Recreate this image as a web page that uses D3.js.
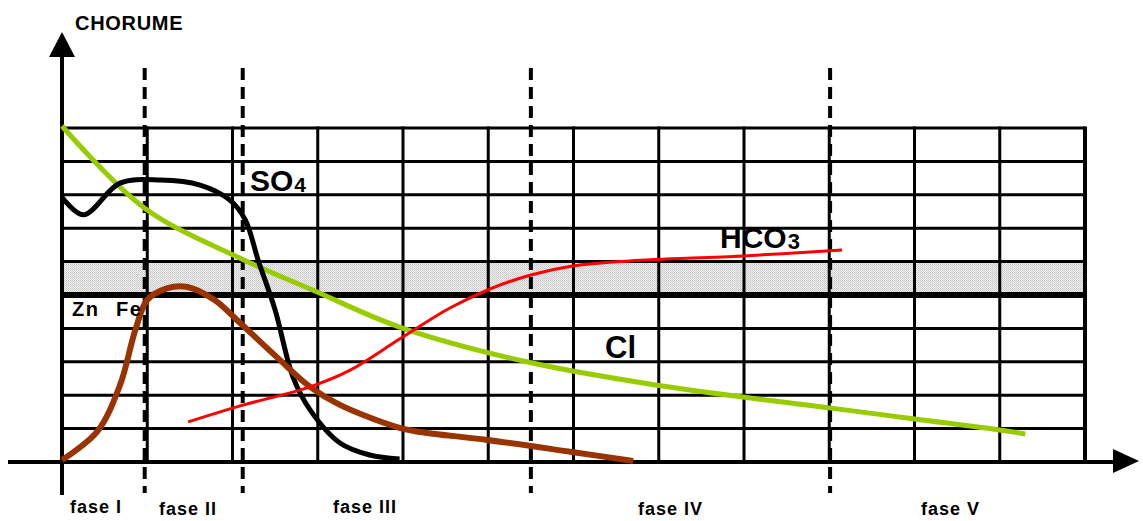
<!DOCTYPE html>
<html>
<head>
<meta charset="utf-8">
<script src="https://cdn.jsdelivr.net/npm/d3@7"></script>
<style>
  html, body { margin: 0; padding: 0; background: #fff; }
  svg { display: block; font-family: Arial, "Liberation Sans", Helvetica, sans-serif; font-weight: bold; }
</style>
</head>
<body>
<svg id="chart" width="1143" height="521"></svg>
<script>
// ---------- DATA ----------
const yAxisTitle = "CHORUME";
const phaseLabels = ["fase I", "fase II", "fase III", "fase IV", "fase V"];
const phaseBoundaries = [0.97, 2.12, 5.5, 9.01];
const gridCols = d3.range(0, 13);      // 12 columns
const gridRows = d3.range(0, 11);      // 10 rows
const shadedBand = [5, 6];

// Cl (green)
const clX = [0, 0.97, 2.09, 2.94, 3.96, 5.45, 6.98, 9.0, 10.0, 11.0, 11.3];
const clY = [10.06, 7.6, 6.1, 5.15, 4.04, 3.0, 2.3, 1.62, 1.29, 0.96, 0.84];

// SO4 (black)
const so4X = [0, 0.25, 0.68, 1.15, 1.62, 1.97, 2.15, 2.3, 2.5, 2.71, 2.91, 3.26, 3.61, 3.96];
const so4Y = [7.93, 7.4, 8.35, 8.44, 8.29, 7.84, 7.25, 6.05, 4.55, 2.54, 1.56, 0.57, 0.21, 0.09];

// Zn Fe (brown)
const znFeX = [0, 0.41, 0.68, 0.86, 1.0, 1.23, 1.47, 1.79, 2.09, 2.52, 2.91, 3.26, 3.96, 4.2, 4.99, 5.98, 6.7];
const znFeY = [0.06, 0.9, 2.3, 3.95, 4.85, 5.2, 5.24, 4.85, 4.16, 3.14, 2.25, 1.71, 1.02, 0.9, 0.66, 0.3, 0.03];

// HCO3 (red)
const hco3X = [1.48, 2.09, 2.91, 3.38, 3.96, 4.55, 5.02, 5.5, 5.99, 6.66, 7.99, 9.15];
const hco3Y = [1.2, 1.68, 2.25, 2.75, 3.68, 4.61, 5.18, 5.6, 5.87, 6.02, 6.17, 6.35];

// ---------- LAYOUT ----------
const svg = d3.select("#chart");
const x = d3.scaleLinear().domain([0, 12]).range([62, 1085]);
const y = d3.scaleLinear().domain([0, 10]).range([462, 128]);

// stipple pattern for shaded band
const defs = svg.append("defs");
const pat = defs.append("pattern").attr("id", "stipple")
  .attr("width", 2).attr("height", 2).attr("patternUnits", "userSpaceOnUse");
pat.append("rect").attr("width", 2).attr("height", 2).attr("fill", "#ececec");
pat.append("rect").attr("width", 1).attr("height", 1).attr("fill", "#c8c8c8");
pat.append("rect").attr("x", 1).attr("y", 1).attr("width", 1).attr("height", 1).attr("fill", "#d4d4d4");

svg.append("rect")
  .attr("x", x(0)).attr("width", x(12) - x(0))
  .attr("y", y(shadedBand[1])).attr("height", y(shadedBand[0]) - y(shadedBand[1]))
  .attr("fill", "url(#stipple)");

// grid
const grid = svg.append("g").attr("stroke", "#000");
grid.selectAll("line.h").data(gridRows).join("line")
  .attr("class", "h")
  .attr("x1", x(0)).attr("x2", x(12))
  .attr("y1", d => y(d)).attr("y2", d => y(d))
  .attr("stroke-width", d => d === 5 ? 6 : 3);
grid.selectAll("line.v").data(gridCols).join("line")
  .attr("class", "v")
  .attr("x1", d => x(d)).attr("x2", d => x(d))
  .attr("y1", y(10) - 1.5).attr("y2", y(0))
  .attr("stroke-width", d => d === 12 ? 4 : 3);

// phase dashed lines
svg.append("g").selectAll("line").data(phaseBoundaries).join("line")
  .attr("x1", d => x(d)).attr("x2", d => x(d))
  .attr("y1", 68).attr("y2", 493)
  .attr("stroke", "#000").attr("stroke-width", 4)
  .attr("stroke-dasharray", "12,7");

// axes
svg.append("line").attr("x1", x(0)).attr("x2", x(0)).attr("y1", 52).attr("y2", 495)
  .attr("stroke", "#000").attr("stroke-width", 4);
svg.append("path").attr("d", `M${x(0)},32 L${x(0) - 13},57 L${x(0) + 13},57 Z`).attr("fill", "#000");
svg.append("line").attr("x1", 8).attr("x2", 1116).attr("y1", y(0)).attr("y2", y(0))
  .attr("stroke", "#000").attr("stroke-width", 4);
svg.append("path").attr("d", `M1139,${y(0) - 1} L1113,${y(0) - 13} L1113,${y(0) + 11} Z`).attr("fill", "#000");

// curves
const line = d3.line().x(d => x(d[0])).y(d => y(d[1])).curve(d3.curveCatmullRom.alpha(0.5));
const zip = (a, b) => a.map((v, i) => [v, b[i]]);
const series = [
  { xs: clX, ys: clY, color: "#99cc00", w: 5 },
  { xs: so4X, ys: so4Y, color: "#000000", w: 5 },
  { xs: znFeX, ys: znFeY, color: "#993300", w: 6 },
  { xs: hco3X, ys: hco3Y, color: "#ff0000", w: 3 }
];
svg.append("g").selectAll("path").data(series).join("path")
  .attr("d", s => line(zip(s.xs, s.ys)))
  .attr("fill", "none")
  .attr("stroke", s => s.color)
  .attr("stroke-width", s => s.w)
  .attr("stroke-linecap", "butt")
  .attr("stroke-linejoin", "round");

// texts
svg.append("text").attr("x", 75).attr("y", 30).attr("font-size", 20)
  .attr("letter-spacing", 0.7).text(yAxisTitle);

const phaseLabelPos = [[70, 513], [159, 515], [333, 513], [638, 515], [921, 515]];
svg.append("g").selectAll("text").data(phaseLabels).join("text")
  .attr("x", (d, i) => phaseLabelPos[i][0])
  .attr("y", (d, i) => phaseLabelPos[i][1])
  .attr("font-size", 18)
  .attr("letter-spacing", 1)
  .text(d => d);

function chem(xp, yp, main, sub, size, subSize) {
  const t = svg.append("text").attr("x", xp).attr("y", yp).attr("font-size", size);
  t.append("tspan").text(main);
  if (sub) t.append("tspan").attr("font-size", subSize).attr("dx", 1).attr("dy", 1).text(sub);
}
chem(250, 191, "SO", "4", 30, 21);
chem(720, 248, "HCO", "3", 30, 22);
chem(605, 358, "Cl", null, 31);
svg.append("text").attr("x", 72).attr("y", 316).attr("font-size", 20).attr("letter-spacing", 1.5).text("Zn");
svg.append("text").attr("x", 116).attr("y", 316).attr("font-size", 20).attr("letter-spacing", 1.5).text("Fe");
</script>
</body>
</html>
